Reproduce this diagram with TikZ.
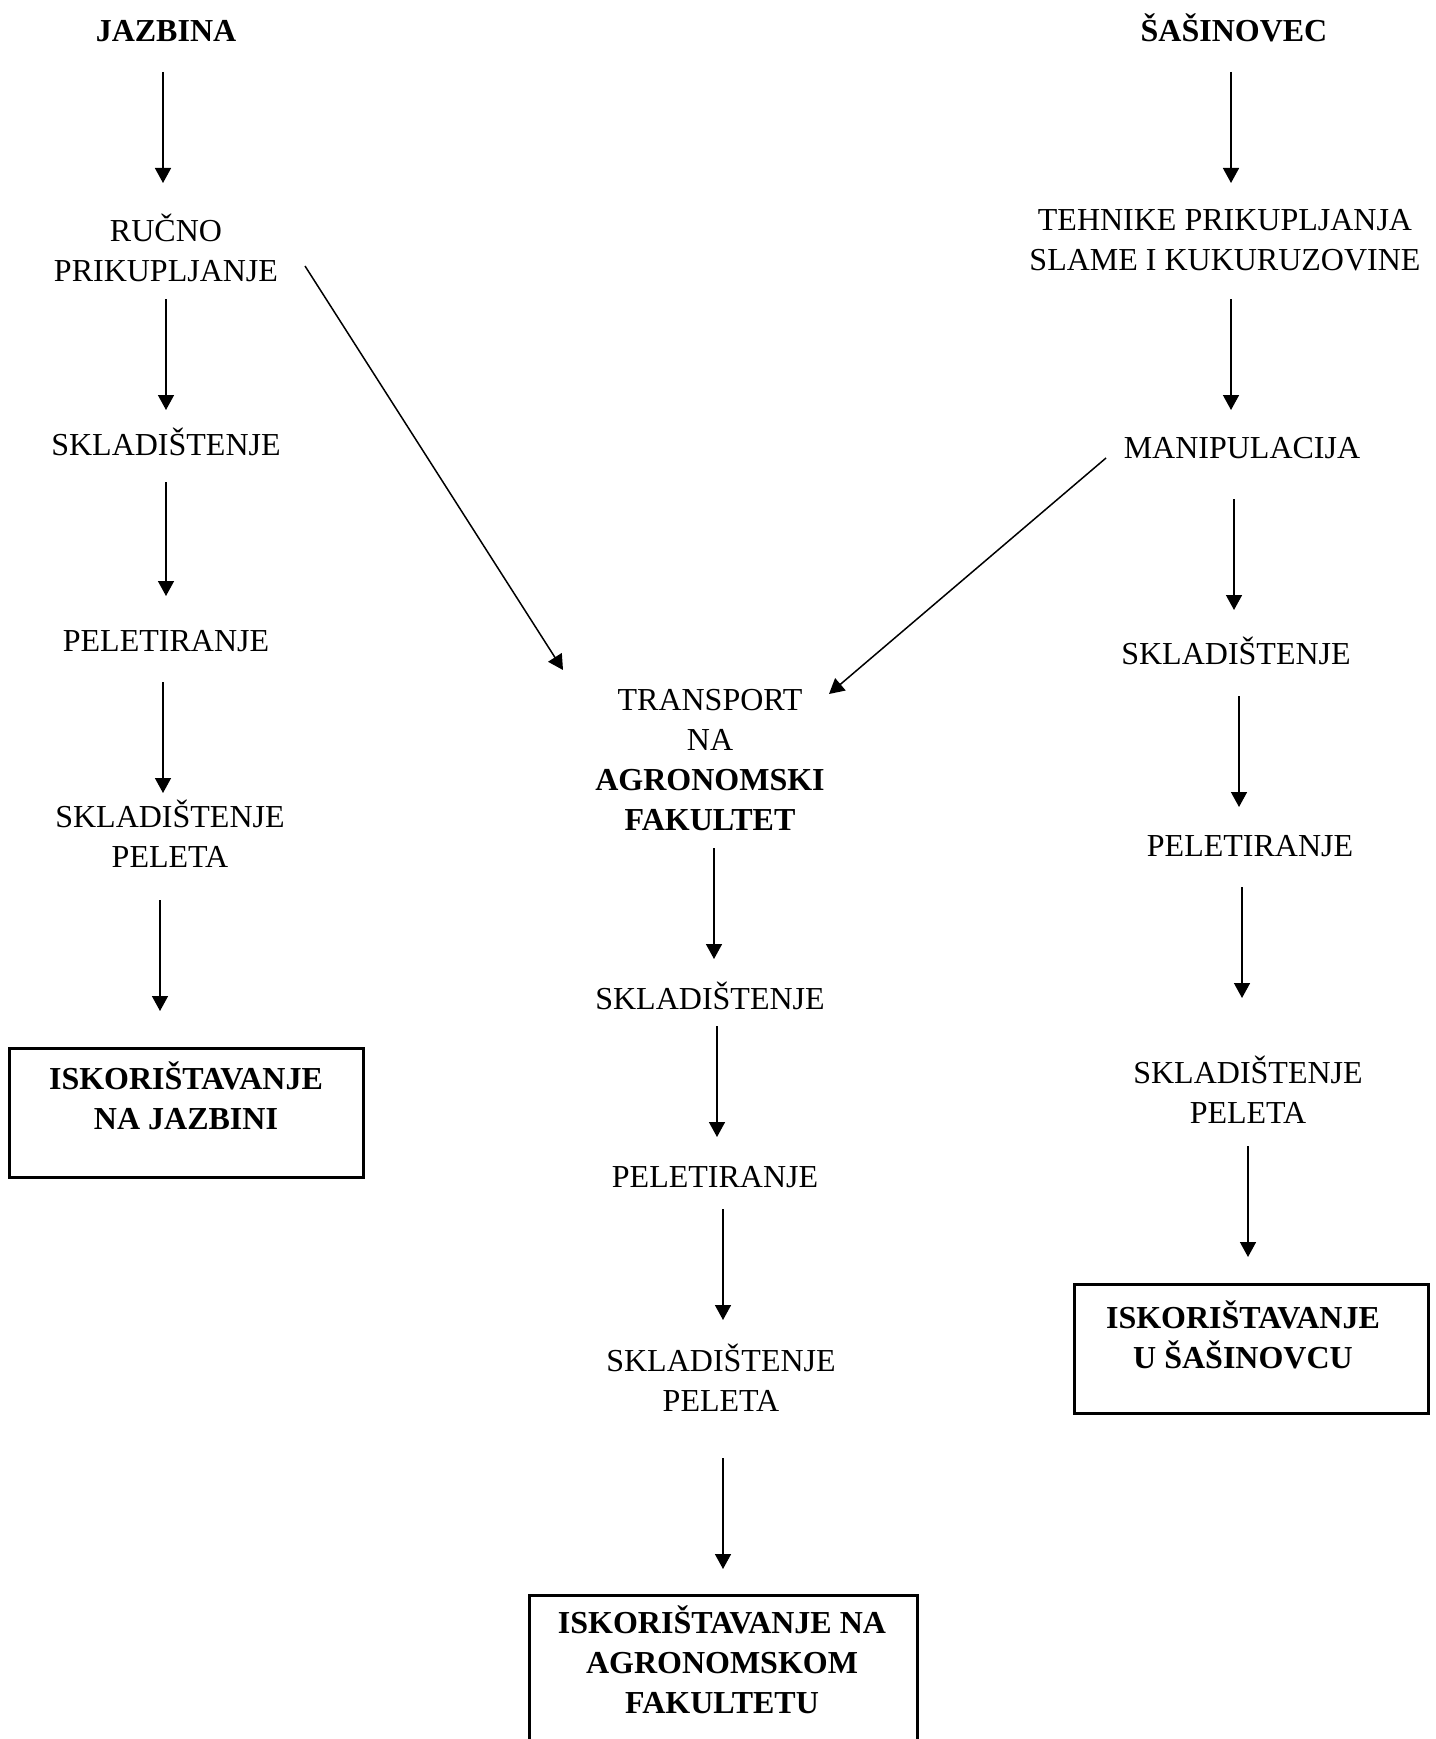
\documentclass[tikz,border=0pt]{standalone}
\usepackage{fontspec}
\setmainfont{Liberation Serif}
\usetikzlibrary{arrows.meta}
\newcommand\vconn[5]{\draw[arr,shorten <=#3pt,shorten >=#4pt] ([xshift=#5pt]#1.center) -- ([xshift=#5pt]#1.center |- #2.center);}
\begin{document}
\begin{tikzpicture}[x=1pt,y=-1pt,
  txt/.style={align=center,inner sep=0pt,font=\fontsize{32}{40}\selectfont},
  bold/.style={txt,font=\fontsize{32}{40}\selectfont\bfseries},
  one/.style={txt,text height=22pt,text depth=0pt},
  bone/.style={bold,text height=22pt,text depth=0pt},
  arr/.style={line width=1.5pt,-{Triangle[length=15pt,width=16pt]}},
  box/.style={draw,line width=3pt,inner sep=0pt}]
\clip (0,0) rectangle (1435,1739);
% left column
\node[bone] (jaz) at (166,31) {JAZBINA};
\node[txt] (ruc) at (166,248) {RUČNO\\PRIKUPLJANJE};
\node[one] (sk1) at (166,444) {SKLADIŠTENJE};
\node[one] (pe1) at (166,640) {PELETIRANJE};
\node[txt] (sp1) at (170,834) {SKLADIŠTENJE\\PELETA};
\node[box,minimum width=354pt,minimum height=129pt] (b1) at (186,1112.5) {};
\node[bold] (t1) at (186,1096) {ISKORIŠTAVANJE\\NA JAZBINI};
% middle column
\node[txt] (tr) at (710,760) {TRANSPORT\\NA\\\textbf{AGRONOMSKI}\\\textbf{FAKULTET}};
\node[one] (sk2) at (710,998) {SKLADIŠTENJE};
\node[one] (pe2) at (715,1176) {PELETIRANJE};
\node[txt] (sp2) at (721,1378) {SKLADIŠTENJE\\PELETA};
\node[box,minimum width=388pt,minimum height=165pt] (b2) at (723,1677.5) {};
\node[bold] (t2) at (722,1660) {ISKORIŠTAVANJE NA\\AGRONOMSKOM\\FAKULTETU};
% right column
\node[bone] (sas) at (1234,31) {ŠAŠINOVEC};
\node[txt] (teh) at (1225,240) {TEHNIKE PRIKUPLJANJA\\SLAME I KUKURUZOVINE};
\node[one] (man) at (1242,447) {MANIPULACIJA};
\node[one] (sk3) at (1236,653) {SKLADIŠTENJE};
\node[one] (pe3) at (1250,845) {PELETIRANJE};
\node[txt] (sp3) at (1248,1090) {SKLADIŠTENJE\\PELETA};
\node[box,minimum width=354pt,minimum height=129pt] (b3) at (1251,1348.5) {};
\node[bold] (t3) at (1243,1335) {ISKORIŠTAVANJE\\U ŠAŠINOVCU};
% vertical arrows
\vconn{jaz}{ruc}{41}{65}{-3}
\vconn{ruc}{sk1}{51}{34}{0}
\vconn{sk1}{pe1}{38}{44}{0}
\vconn{pe1}{sp1}{42}{41}{-3}
\vconn{sp1}{b1}{66}{101.5}{-10}
\vconn{tr}{sk2}{88}{39}{4}
\vconn{sk2}{pe2}{28}{39}{7}
\vconn{pe2}{sp2}{33}{58}{8}
\vconn{sp2}{b2}{80}{108.5}{2}
\vconn{sas}{teh}{41}{57}{-3}
\vconn{teh}{man}{59}{37}{6}
\vconn{man}{sk3}{52}{43}{-8}
\vconn{sk3}{pe3}{43}{38}{3}
\vconn{pe3}{sp3}{42}{92}{-8}
\vconn{sp3}{b3}{56}{91.5}{0}
% diagonal arrows
\coordinate (d1s) at (305,266);
\coordinate (d1e) at (563,670);
\coordinate (d2s) at (1106,458);
\coordinate (d2e) at (829,694);
\draw[arr] (d1s) -- (d1e);
\draw[arr] (d2s) -- (d2e);
\end{tikzpicture}
\end{document}
